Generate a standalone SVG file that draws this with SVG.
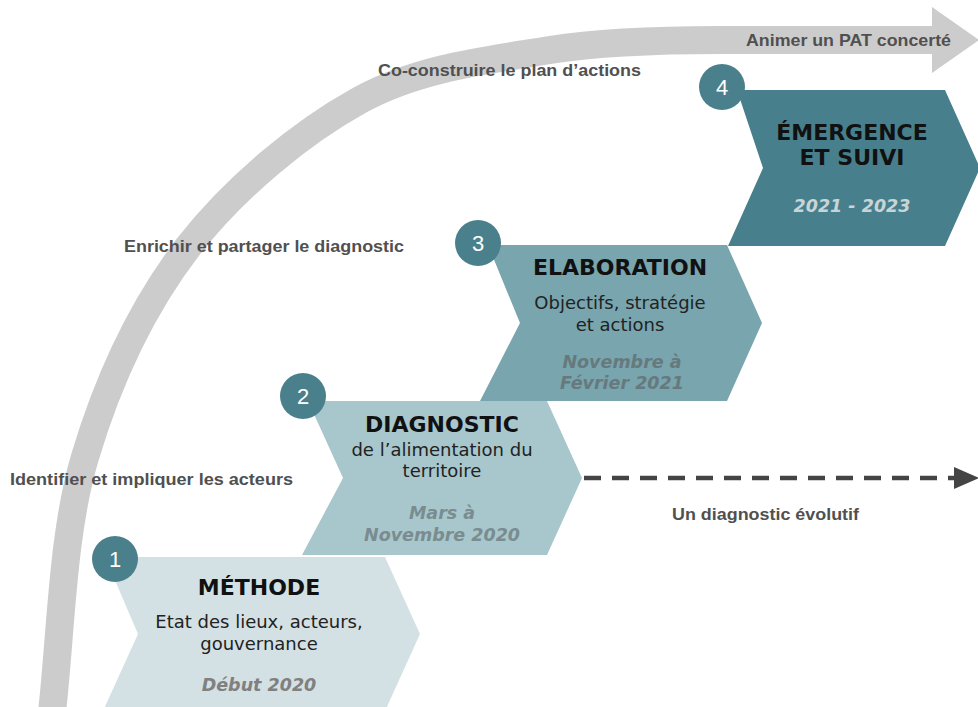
<svg xmlns="http://www.w3.org/2000/svg" width="978" height="707" viewBox="0 0 978 707">
<style>
.lbl{font-family:"Liberation Sans",Arial,sans-serif;font-weight:bold;font-size:17px;fill:#505050}
.ttl{font-family:"DejaVu Sans",Verdana,sans-serif;font-weight:bold;font-size:22px;fill:#111;text-anchor:middle}
.sub{font-family:"DejaVu Sans",Verdana,sans-serif;font-size:18px;fill:#222;text-anchor:middle}
.date{font-family:"DejaVu Sans",Verdana,sans-serif;font-weight:bold;font-style:italic;font-size:17.5px;fill:#808080;text-anchor:middle}
.num{font-family:"Liberation Sans",Arial,sans-serif;font-size:22px;fill:#fff;text-anchor:middle}
.badge{fill:#4a808c}
</style>
<rect width="978" height="707" fill="#fff"/>
<g id="connectors">
  <path d="M52,712 C61,633 62,534 85,457 C108,380 142,307 188,247 C234,188 300,133 360,100 C420,67 490,60 550,50 C600,42 660,40 720,40 L934,40" fill="none" stroke="#cccccc" stroke-width="28"/>
  <polygon points="932,7 979,40 932,73" fill="#cccccc"/>
  <line x1="584" y1="478" x2="955" y2="478" stroke="#444" stroke-width="4.5" stroke-dasharray="17,11"/>
  <polygon points="954,467 979,478 954,489" fill="#444"/>
</g>
<g id="labels">
  <text class="lbl" x="378" y="76" textLength="263" lengthAdjust="spacingAndGlyphs">Co-construire le plan d’actions</text>
  <text class="lbl" x="124" y="252" textLength="280" lengthAdjust="spacingAndGlyphs">Enrichir et partager le diagnostic</text>
  <text class="lbl" x="10" y="485" textLength="283" lengthAdjust="spacingAndGlyphs">Identifier et impliquer les acteurs</text>
  <text class="lbl" x="746" y="46" textLength="205" lengthAdjust="spacingAndGlyphs">Animer un PAT concerté</text>
  <text class="lbl" x="672" y="520" textLength="187" lengthAdjust="spacingAndGlyphs">Un diagnostic évolutif</text>
</g>
<g id="step1">
  <polygon points="105,557 385,557 420,634 385,711 103,711 138,634" fill="#d3e1e4"/>
  <circle class="badge" cx="115" cy="559" r="23"/>
  <text class="num" x="115" y="567">1</text>
  <text class="ttl" x="259" y="595">MÉTHODE</text>
  <text class="sub" x="259" y="628">Etat des lieux, acteurs,</text>
  <text class="sub" x="259" y="650">gouvernance</text>
  <text class="date" x="259" y="691">Début 2020</text>
</g>
<g id="step2">
  <polygon points="308,401 547,401 582,478 547,555 302,555 343,478" fill="#a7c7cc"/>
  <circle class="badge" cx="303" cy="396" r="23"/>
  <text class="num" x="303" y="404">2</text>
  <text class="ttl" x="442" y="432">DIAGNOSTIC</text>
  <text class="sub" x="442" y="456">de l’alimentation du</text>
  <text class="sub" x="442" y="477">territoire</text>
  <text class="date" x="442" y="519" fill="#7a8c90" style="fill:#7a8c90">Mars à</text>
  <text class="date" x="442" y="541" style="fill:#7a8c90">Novembre 2020</text>
</g>
<g id="step3">
  <polygon points="488,245 727,245 762,323 727,401 480,401 520,323" fill="#78a5ae"/>
  <circle class="badge" cx="478" cy="243" r="23"/>
  <text class="num" x="478" y="251">3</text>
  <text class="ttl" x="620" y="275">ELABORATION</text>
  <text class="sub" x="620" y="309">Objectifs, stratégie</text>
  <text class="sub" x="620" y="331">et actions</text>
  <text class="date" x="622" y="368" style="fill:#66797d">Novembre à</text>
  <text class="date" x="622" y="389" style="fill:#66797d">Février 2021</text>
</g>
<g id="step4">
  <polygon points="737,90 945,90 980,168 945,246 728,246 763,168" fill="#47808c"/>
  <circle class="badge" cx="722" cy="87" r="23"/>
  <text class="num" x="722" y="95">4</text>
  <text class="ttl" x="852" y="140">ÉMERGENCE</text>
  <text class="ttl" x="852" y="165">ET SUIVI</text>
  <text class="date" x="852" y="212" style="fill:#c9d4d7">2021 - 2023</text>
</g>
</svg>
